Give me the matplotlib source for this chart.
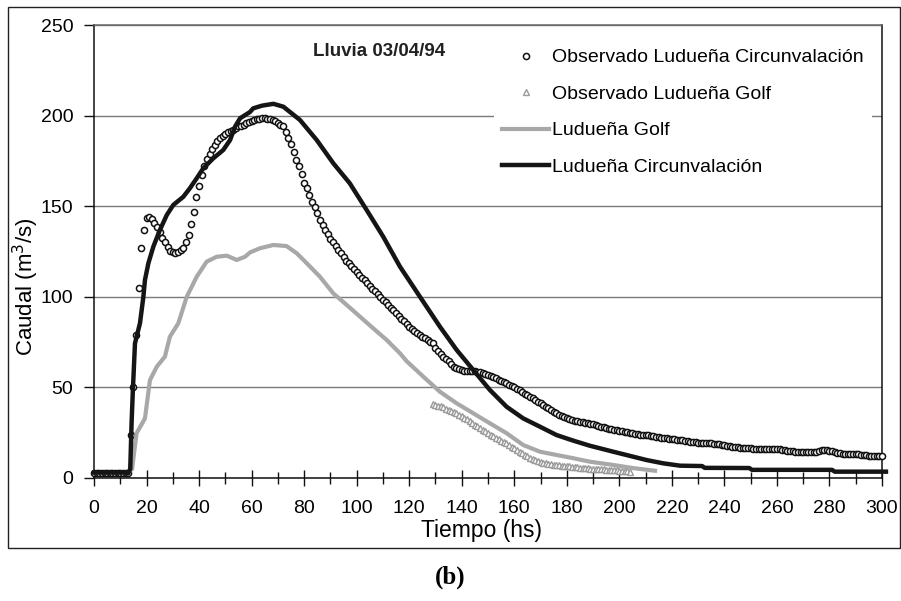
import numpy as np
import matplotlib
matplotlib.use("Agg")
import matplotlib.pyplot as plt
from matplotlib.patches import Rectangle
from matplotlib.ticker import MultipleLocator

plt.rcParams['font.family'] = ['Liberation Sans', 'DejaVu Sans']

# observed discharge, Ludueña Circunvalación (hourly, t = 0..300 hs)
t_obs_circ = np.arange(0, 301)
q_obs_circ = [
    3, 3, 3, 3, 3, 3, 3, 3, 3, 3,
    3, 3, 3, 3, 24, 50, 79, 105, 127, 137,
    143.5, 144, 143, 141, 138.5, 135.5, 132.5, 130, 127.5, 125.5,
    124.5, 124.2, 124.8, 125.8, 127, 130, 134, 140, 147, 155,
    161, 167, 172, 176, 179, 181.5, 184, 186, 187.5, 188.5,
    190, 191, 191.5, 192, 193, 194, 194.5, 195, 195.7, 196.5,
    197, 197.5, 198, 198, 198.5, 198.5, 198, 198, 197.5, 197,
    196, 195, 194.5, 191, 187.5, 184.5, 180, 175.5, 172, 167.5,
    163, 160, 156, 152.5, 149.5, 146, 142.5, 139.5, 137, 134.5,
    132, 130, 128, 126, 124, 122, 120, 118.5, 117, 115.5,
    113.5, 112, 110.5, 109, 107.5, 106, 104.5, 103, 101.5, 100,
    98.5, 97, 95.5, 94, 92.5, 91, 89.5, 88, 86.5, 85,
    83.5, 82, 81, 80, 79, 78, 77, 76, 75, 74.3,
    72, 70, 68.5, 67, 65.5, 64.5, 63, 61.5, 60.5, 60,
    59.5, 59.3, 59.2, 59, 58.9, 58.8, 58.7, 58.5, 58, 57.5,
    57, 56.5, 55.8, 55, 54.3, 53.6, 53, 52.3, 51.5, 50.8,
    50, 49.2, 48.3, 47.3, 46.5, 45.7, 44.8, 44, 43, 42,
    41.2, 40.3, 39.4, 38.5, 37.5, 36.5, 35.7, 35, 34.2, 33.6,
    33, 32.5, 32, 31.6, 31.3, 31, 30.8, 30.5, 30.3, 30,
    29.6, 29.2, 28.8, 28.4, 28, 27.7, 27.3, 27, 26.7, 26.4,
    26.1, 25.8, 25.5, 25.3, 25, 24.8, 24.5, 24.3, 24, 23.8,
    23.7, 23.5, 23.2, 23, 22.7, 22.5, 22.2, 22, 21.8, 21.6,
    21.5, 21.3, 21.1, 21, 20.7, 20.5, 20.3, 20, 19.8, 19.7,
    19.5, 19.4, 19.3, 19.2, 19.2, 19.1, 19, 18.8, 18.5, 18.2,
    18, 17.8, 17.5, 17.3, 17.1, 17, 16.8, 16.6, 16.5, 16.4,
    16.3, 16.2, 16.1, 16, 16, 15.9, 15.9, 15.8, 15.8, 15.8,
    15.8, 15.8, 15.5, 15.2, 15, 14.8, 14.7, 14.6, 14.6, 14.5,
    14.5, 14.5, 14.5, 14.5, 14.5, 14.6, 14.8, 15.2, 15.5, 15.3,
    15, 14.7, 14.3, 14, 13.7, 13.5, 13.3, 13.2, 13.1, 13,
    13, 13, 12.9, 12.8, 12.5, 12.2, 12, 12, 12, 12,
    12,
]

# observed discharge, Ludueña Golf (hourly, t = 129..204 hs)
t_obs_golf = np.arange(129, 205)
q_obs_golf = [
    41, 40.5, 40, 39.5, 39, 38, 37.5, 37, 36.3, 35.7,
    35, 34, 33.2, 32.3, 31.2, 30.2, 29.4, 28.5, 27.6, 26.7,
    25.7, 24.7, 23.8, 23, 22.2, 21.4, 20.6, 19.8, 19.1, 18.2,
    17.3, 16.4, 15.5, 14.5, 13.6, 12.8, 12, 11.2, 10.4, 9.7,
    9.2, 8.8, 8.5, 8.2, 7.9, 7.6, 7.4, 7.2, 7, 6.8,
    6.7, 6.5, 6.4, 6.2, 6, 5.9, 5.7, 5.6, 5.5, 5.3,
    5.2, 5.1, 5, 4.9, 4.8, 4.7, 4.6, 4.5, 4.4, 4.3,
    4.2, 4.1, 4, 3.8, 3.7, 3.5,
]

# simulated hydrograph, Ludueña Golf
t_sim_golf = [13, 14.5, 16.2, 19.4, 21.3, 23.9, 27, 28.9, 32.1, 35.3, 39.1, 42.9,
              46.7, 50.5, 52.5, 54.3, 57.5, 59.4, 63.2, 68.3, 73.3, 77.2, 81, 86,
              91.1, 96.2, 101.3, 106.3, 111.4, 116.5, 119, 125.4, 131.7, 138.1,
              144.4, 150.7, 157.1, 163.4, 169.8, 176.1, 182.5, 188.8, 197.7, 205,
              213.6]
q_sim_golf = [3, 5, 24.7, 32.9, 54, 61.4, 67, 78, 85.4, 100, 111.1, 119.4,
              122.1, 122.7, 121.5, 120.3, 122.1, 124.5, 126.8, 128.6, 128, 124, 118.5, 111.1,
              101.9, 95.5, 89, 82.6, 76.2, 68.8, 64.5, 55.9, 47.6, 41.2,
              35.7, 30.2, 24.7, 18.2, 14.5, 12.7, 10.9, 9, 7.2, 5.5,
              4]

# simulated hydrograph, Ludueña Circunvalación
t_sim_circ = [0, 12, 13, 13.8, 14.3, 14.8, 15.6, 17.5, 18.8, 19.4, 20.7, 22.6,
              25.1, 27.7, 30.2, 34, 36.5, 39.1, 41.6, 45.4, 49.2, 51.8, 53.7, 55.6,
              59.4, 60.6, 64, 68.3, 72.1, 78.4, 84.8, 91.1, 97.4, 103.8, 110.1, 116.5,
              124.1, 131.7, 138.1, 144.4, 150.7, 157.1, 163.4, 169.8, 176.1, 182.5,
              188.8, 197.7, 210.4, 216.7, 223.1, 231.5, 232.5, 249.5, 250.5, 281,
              282, 301.5]
q_sim_circ = [3, 3, 2.5, 5, 30, 48.6, 74.3, 85.4, 100, 109.3, 118.5, 127.7,
              136.9, 145.1, 150.7, 155.2, 159.9, 165.4, 170.9, 176.4, 181, 186.5, 193.9, 198.5,
              202, 204, 205.5, 206.5, 204.9, 197.6, 186.5, 173.7, 162.6, 147.9, 133.2, 116.6,
              100, 83.5, 70.6, 59.6, 48.6, 39.3, 32.9, 28.3, 23.7, 20.6,
              17.8, 14.5, 9.9, 8.1, 6.8, 6.6, 5.6, 5.5, 4.5, 4.5,
              3.5, 3.5]

W, H = 901, 601
fig = plt.figure(figsize=(W / 100, H / 100), dpi=100)
fig.patches.append(Rectangle((8 / W, 1 - 548 / H), 892 / W, 541 / H, transform=fig.transFigure,
                             fill=False, edgecolor='#222222', linewidth=1.0))

ax = fig.add_axes([94 / W, 1 - 478 / H, 788 / W, 453 / H])

ax.plot(t_obs_circ, q_obs_circ, linestyle='none', marker='o', markersize=4.4,
        markerfacecolor='white', markeredgecolor='#111111', markeredgewidth=1.1,
        label='Observado Ludueña Circunvalación', clip_on=False, zorder=3)
ax.plot(t_obs_golf, q_obs_golf, linestyle='none', marker='^', markersize=4.0,
        markerfacecolor='white', markeredgecolor='#9a9a9a', markeredgewidth=1.0,
        label='Observado Ludueña Golf', zorder=3)
ax.plot(t_sim_golf, q_sim_golf, color='#a8a8a8', linewidth=3.0,
        label='Ludueña Golf', zorder=4)
ax.plot(t_sim_circ, q_sim_circ, color='#151515', linewidth=3.2,
        label='Ludueña Circunvalación', clip_on=False, zorder=5)

ax.set_xlim(0, 300)
ax.set_ylim(0, 250)
ax.xaxis.set_major_locator(MultipleLocator(20))
ax.xaxis.set_minor_locator(MultipleLocator(10))
ax.yaxis.set_major_locator(MultipleLocator(50))
ax.yaxis.grid(True, color='#7a7a7a', linewidth=1.0)
ax.set_axisbelow(True)

ax.tick_params(axis='x', which='major', direction='inout', length=11, width=1.0,
               labelsize=14, pad=10, color='#111111')
ax.tick_params(axis='x', which='minor', direction='inout', length=8, width=1.0, color='#111111')
ax.tick_params(axis='y', which='major', direction='out', length=7, width=1.0,
               labelsize=14, pad=8, color='#111111')

for side in ['left', 'bottom', 'right']:
    ax.spines[side].set_color('#111111')
    ax.spines[side].set_linewidth(1.1)
ax.spines['top'].set_color('#666666')
ax.spines['top'].set_linewidth(1.1)

fig.text(482 / W, 1 - 530 / H, 'Tiempo (hs)', ha='center', va='center', fontsize=16.5)
fig.text(26 / W, 1 - 287 / H, 'Caudal (m$^3$/s)', ha='center', va='center',
         rotation=90, fontsize=16)

ax.text(0.3617, 0.9426, 'Lluvia 03/04/94', transform=ax.transAxes, ha='center',
        va='center', fontsize=13.5, fontweight='bold', color='#222222')

leg = ax.legend(loc='upper left', bbox_to_anchor=((494 - 94) / 788, (478 - 41) / 453),
                frameon=True, fontsize=14, handlelength=2.45, handletextpad=0.15,
                labelspacing=0.97, borderpad=0.4, borderaxespad=0, markerscale=1.0)
leg.get_frame().set_edgecolor('none')
leg.get_frame().set_facecolor('white')
leg.get_frame().set_alpha(1.0)

fig.text(450 / W, 1 - 577 / H, '(b)', ha='center', va='center', fontsize=18,
         fontweight='bold', family='Liberation Serif')

fig.savefig('out.png', dpi=100)
